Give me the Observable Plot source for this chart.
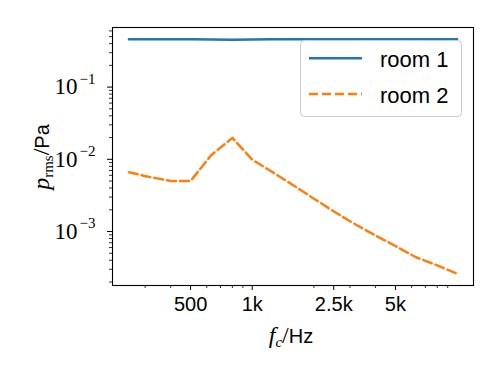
<!DOCTYPE html>
<html><head><meta charset="utf-8">
<script src="https://cdn.jsdelivr.net/npm/d3@7"></script>
<script src="https://cdn.jsdelivr.net/npm/@observablehq/plot@0.6"></script>
<style>body{margin:0;background:#fff}#chart{width:500px;height:375px}</style>
</head><body><div id="chart"></div>
<script>
// Third-octave band centre frequencies (Hz)
const freqs = [250, 315, 400, 500, 630, 800, 1000, 1250, 1600, 2000, 2500, 3150, 4000, 5000, 6300, 8000, 10000];
// p_rms (Pa)
const room1 = [0.46, 0.46, 0.46, 0.459, 0.456, 0.454, 0.456, 0.458, 0.459, 0.46, 0.46, 0.46, 0.46, 0.46, 0.46, 0.46, 0.46];
const room2 = [6.6e-3, 5.7e-3, 5.0e-3, 5.0e-3, 1.14e-2, 1.98e-2, 9.9e-3, 6.7e-3, 4.3e-3, 2.85e-3, 1.9e-3, 1.28e-3, 8.8e-4, 6.3e-4, 4.4e-4, 3.4e-4, 2.6e-4];
const seriesNames = ["room 1", "room 2"];
const seriesColors = ["#1f77b4", "#ff7f0e"];
const xTickValues = [500, 1000, 2500, 5000];
const xTickLabels = ["500", "1k", "2.5k", "5k"];
const yTickValues = [1e-3, 1e-2, 1e-1];
const yTickExponents = ["−3", "−2", "−1"];

function padLog(vals) {
  const lo = Math.log10(d3.min(vals)), hi = Math.log10(d3.max(vals));
  const p = 0.05 * (hi - lo);
  return [10 ** (lo - p), 10 ** (hi + p)];
}
const xDom = padLog(freqs);
const yDom = padLog(room1.concat(room2));

const minorX = [];
for (let e = 2; e <= 4; e++) for (let k = 2; k <= 9; k++) {
  const v = k * 10 ** e;
  if (v >= xDom[0] && v <= xDom[1] && !xTickValues.includes(v)) minorX.push(v);
}
const minorY = [];
for (let e = -5; e <= 0; e++) for (let k = 2; k <= 9; k++) {
  const v = k * 10 ** e;
  if (v >= yDom[0] && v <= yDom[1]) minorY.push(v);
}

const sans = "'Liberation Sans', Arial, sans-serif";
const serif = "'Liberation Serif', 'Times New Roman', serif";
const lw = 2.5, dash = "9,4";

const chart = Plot.plot({
  width: 500, height: 375,
  marginLeft: 112, marginRight: 27, marginTop: 27, marginBottom: 90,
  style: {background: "white", color: "black", overflow: "visible"},
  x: {type: "log", domain: xDom},
  y: {type: "log", domain: yDom},
  marks: [
    Plot.axisX(minorX, {tickSize: 3, tickFormat: () => "", label: null, strokeWidth: 0.8}),
    Plot.axisX(xTickValues, {tickSize: 5, tickFormat: () => "", label: null, strokeWidth: 1}),
    Plot.text(xTickValues, {x: d => d, frameAnchor: "bottom", text: (d, i) => xTickLabels[i],
      textAnchor: "middle", lineAnchor: "top", dy: 11, fontSize: 20, fontFamily: sans}),
    Plot.axisY(minorY, {tickSize: 3, tickFormat: () => "", label: null, strokeWidth: 0.8}),
    Plot.axisY(yTickValues, {tickSize: 5, tickFormat: () => "", label: null, strokeWidth: 1}),
    Plot.text(yTickValues, {y: d => d, frameAnchor: "left", text: () => "10",
      textAnchor: "end", lineAnchor: "middle", dx: -35, dy: 0, fontSize: 23, fontFamily: serif}),
    Plot.text(yTickValues, {y: d => d, frameAnchor: "left", text: (d, i) => yTickExponents[i],
      textAnchor: "start", lineAnchor: "middle", dx: -33, dy: -8, fontSize: 15, fontFamily: serif}),
    Plot.line(freqs, {x: d => d, y: (d, i) => room1[i], stroke: seriesColors[0], strokeWidth: lw}),
    Plot.line(freqs, {x: d => d, y: (d, i) => room2[i], stroke: seriesColors[1], strokeWidth: lw,
      strokeDasharray: dash}),
    Plot.frame({stroke: "black", strokeWidth: 1.1})
  ]
});
document.getElementById("chart").appendChild(chart);

const svg = d3.select(chart);
// x label
const xl = svg.append("text").attr("x", 291).attr("y", 343).attr("text-anchor", "middle").attr("fill", "black");
xl.append("tspan").attr("font-family", serif).attr("font-style", "italic").attr("font-size", 24).text("f");
xl.append("tspan").attr("font-family", serif).attr("font-style", "italic").attr("font-size", 15).attr("dy", 4).text("c");
xl.append("tspan").attr("font-family", serif).attr("font-size", 24).attr("dy", -4).text("/");
xl.append("tspan").attr("font-family", sans).attr("font-size", 20).text("Hz");
// y label
const yl = svg.append("text").attr("transform", "translate(49,157) rotate(-90)").attr("text-anchor", "middle").attr("fill", "black");
yl.append("tspan").attr("font-family", serif).attr("font-style", "italic").attr("font-size", 24).text("p");
yl.append("tspan").attr("font-family", serif).attr("font-size", 15).attr("dy", 4).text("rms");
yl.append("tspan").attr("font-family", serif).attr("font-size", 24).attr("dy", -4).text("/");
yl.append("tspan").attr("font-family", sans).attr("font-size", 20).text("Pa");
// legend
const lg = svg.append("g");
lg.append("rect").attr("x", 300.5).attr("y", 40.5).attr("width", 161).attr("height", 76).attr("rx", 4)
  .attr("fill", "white").attr("fill-opacity", 0.8).attr("stroke", "#cccccc").attr("stroke-width", 1);
const rowY = [58.3, 94];
seriesNames.forEach((name, i) => {
  lg.append("line").attr("x1", 309).attr("x2", 362).attr("y1", rowY[i]).attr("y2", rowY[i])
    .attr("stroke", seriesColors[i]).attr("stroke-width", lw)
    .attr("stroke-dasharray", i === 1 ? dash : null);
  lg.append("text").attr("x", 380).attr("y", rowY[i] + 8.5).attr("text-anchor", "start")
    .attr("font-family", sans).attr("font-size", 22).attr("fill", "black").text(name);
});
</script>
</body></html>
